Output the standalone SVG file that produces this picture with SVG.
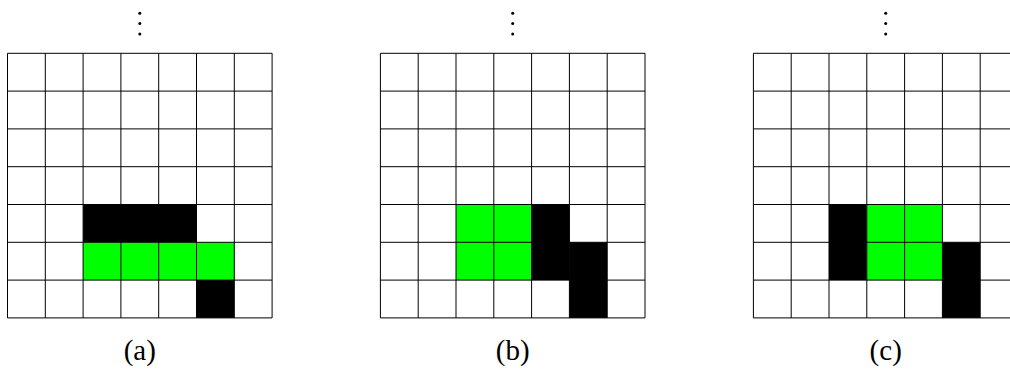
<svg xmlns="http://www.w3.org/2000/svg" xmlns:xlink="http://www.w3.org/1999/xlink" width="1010" height="369" viewBox="0 0 1010 369">
<style>
.g{fill:#00ff00}
.k{fill:#000}
.ln{stroke:#000;stroke-width:1;fill:none}
.lbl{font-family:"Liberation Serif","DejaVu Serif",serif;font-size:29px;fill:#000;text-anchor:middle}
.dot{fill:#000}
</style>
<defs>
<g id="grid" class="ln">
<path d="M0,0V264.6M37.8,0V264.6M75.6,0V264.6M113.4,0V264.6M151.2,0V264.6M189,0V264.6M226.8,0V264.6M264.6,0V264.6"/>
<path d="M0,0H264.6M0,37.8H264.6M0,75.6H264.6M0,113.4H264.6M0,151.2H264.6M0,189H264.6M0,226.8H264.6M0,264.6H264.6"/>
</g>
<g id="dots">
<circle cx="0" cy="13.3" r="1.5"/>
<circle cx="0" cy="23.5" r="1.5"/>
<circle cx="0" cy="34" r="1.5"/>
</g>
</defs>
<g id="panel-a" transform="translate(7.5,53.3)">
<rect class="k" x="75.6" y="151.2" width="113.4" height="37.8"/>
<rect class="g" x="75.6" y="189" width="151.2" height="37.8"/>
<rect class="k" x="189" y="226.8" width="37.8" height="37.8"/>
<use xlink:href="#grid"/>
<use xlink:href="#dots" class="dot" x="132.3" y="-53.3"/>
<text class="lbl" x="132.3" y="307">(a)</text>
</g>
<g id="panel-b" transform="translate(380.4,53.3)">
<rect class="g" x="75.6" y="151.2" width="75.6" height="75.6"/>
<rect class="k" x="151.2" y="151.2" width="37.8" height="75.6"/>
<rect class="k" x="189" y="189" width="37.8" height="75.6"/>
<use xlink:href="#grid"/>
<use xlink:href="#dots" class="dot" x="132.3" y="-53.3"/>
<text class="lbl" x="132.3" y="307">(b)</text>
</g>
<g id="panel-c" transform="translate(753.4,53.3)">
<rect class="k" x="75.6" y="151.2" width="37.8" height="75.6"/>
<rect class="g" x="113.4" y="151.2" width="75.6" height="75.6"/>
<rect class="k" x="189" y="189" width="37.8" height="75.6"/>
<use xlink:href="#grid"/>
<use xlink:href="#dots" class="dot" x="132.3" y="-53.3"/>
<text class="lbl" x="132.3" y="307">(c)</text>
</g>
<g id="connectors"></g>
</svg>
